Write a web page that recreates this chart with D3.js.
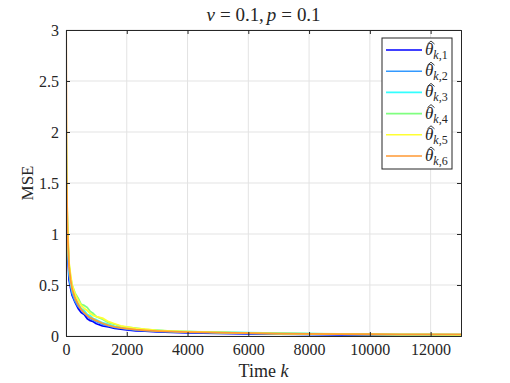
<!DOCTYPE html>
<html>
<head>
<meta charset="utf-8">
<script src="https://cdn.jsdelivr.net/npm/d3@7.9.0/dist/d3.min.js"></script>
<style>
  body { margin: 0; background: #fff; }
  svg text { font-family: "Liberation Serif", serif !important; fill: #262626; }
</style>
</head>
<body>
<div id="chart"></div>
<script>
const steps = [0, 20, 50, 100, 150, 200, 300, 400, 500, 600, 700, 800, 900, 1000, 1200, 1400, 1600, 1800, 2000, 2300, 2600, 3000, 3500, 4000, 5000, 6000, 7000, 8000, 9000, 10000, 11000, 12000, 13000];

// MSE per estimate
const theta1 = [1.9, 1.2, 0.85, 0.55, 0.47, 0.40, 0.33, 0.27, 0.23, 0.21, 0.17, 0.15, 0.14, 0.12, 0.10, 0.09, 0.075, 0.068, 0.06, 0.05, 0.047, 0.04, 0.036, 0.03, 0.025, 0.021, 0.018, 0.015, 0.012, 0.01, 0.009, 0.008, 0.007];
const theta2 = [1.75, 1.3, 0.9, 0.6, 0.5, 0.42, 0.34, 0.29, 0.26, 0.22, 0.2, 0.17, 0.155, 0.14, 0.115, 0.1, 0.085, 0.078, 0.068, 0.058, 0.052, 0.045, 0.04, 0.035, 0.03, 0.026, 0.02, 0.017, 0.015, 0.013, 0.012, 0.011, 0.01];
const theta3 = [2.2, 1.4, 1.0, 0.65, 0.52, 0.45, 0.37, 0.32, 0.27, 0.25, 0.21, 0.2, 0.17, 0.16, 0.13, 0.115, 0.095, 0.088, 0.078, 0.07, 0.06, 0.054, 0.046, 0.042, 0.037, 0.033, 0.027, 0.022, 0.019, 0.016, 0.014, 0.013, 0.012];
const theta4 = [2.0, 1.45, 1.05, 0.7, 0.58, 0.5, 0.42, 0.37, 0.31, 0.3, 0.28, 0.24, 0.22, 0.19, 0.165, 0.13, 0.115, 0.095, 0.088, 0.077, 0.065, 0.056, 0.048, 0.043, 0.035, 0.03, 0.025, 0.022, 0.02, 0.018, 0.016, 0.015, 0.015];
const theta5 = [2.4, 1.5, 1.1, 0.72, 0.6, 0.5, 0.41, 0.35, 0.3, 0.27, 0.25, 0.22, 0.2, 0.19, 0.175, 0.14, 0.12, 0.1, 0.09, 0.075, 0.066, 0.055, 0.048, 0.043, 0.035, 0.028, 0.024, 0.02, 0.018, 0.016, 0.014, 0.013, 0.012];
const theta6 = [3.5, 1.6, 1.0, 0.68, 0.55, 0.46, 0.37, 0.31, 0.26, 0.23, 0.2, 0.18, 0.165, 0.15, 0.125, 0.105, 0.09, 0.08, 0.072, 0.062, 0.055, 0.048, 0.042, 0.038, 0.033, 0.028, 0.024, 0.021, 0.019, 0.017, 0.016, 0.015, 0.015];

const seriesNames = ["1", "2", "3", "4", "5", "6"];
const colors = ["#0000ff", "#3399ff", "#33ffff", "#80ff80", "#ffff33", "#ff9933"];
const xTicks = [0, 2000, 4000, 6000, 8000, 10000, 12000];
const yTicks = [0, 0.5, 1, 1.5, 2, 2.5, 3];

const W = 510, H = 383;
const margin = { top: 30, right: 49, bottom: 47, left: 66 };
const iw = W - margin.left - margin.right;
const ih = H - margin.top - margin.bottom;
const SERIF = "'Liberation Serif', serif";

const svg = d3.select("#chart").append("svg")
    .attr("width", W).attr("height", H);

const g = svg.append("g").attr("transform", `translate(${margin.left},${margin.top})`);

const x = d3.scaleLinear().domain([0, 13000]).range([0, iw]);
const y = d3.scaleLinear().domain([0, 3]).range([ih, 0]);

// grid
g.selectAll("line.gx").data(xTicks).join("line")
    .attr("x1", d => x(d)).attr("x2", d => x(d))
    .attr("y1", 0).attr("y2", ih)
    .attr("stroke", "#e3e3e3").attr("stroke-width", 1);
g.selectAll("line.gy").data(yTicks).join("line")
    .attr("y1", d => y(d)).attr("y2", d => y(d))
    .attr("x1", 0).attr("x2", iw)
    .attr("stroke", "#e3e3e3").attr("stroke-width", 1);

// curves
g.append("clipPath").attr("id", "clip").append("rect")
    .attr("width", iw).attr("height", ih);

const allSeries = [theta1, theta2, theta3, theta4, theta5, theta6];
const line = d3.line().x((d, i) => x(steps[i])).y(d => y(d));

g.append("g").attr("clip-path", "url(#clip)")
    .selectAll("path").data(allSeries).join("path")
    .attr("d", line)
    .attr("fill", "none")
    .attr("stroke", (d, i) => colors[i])
    .attr("stroke-width", 1.8)
    .attr("stroke-linejoin", "round");

// axes (MATLAB box style, ticks inward)
const xAxis = d3.axisBottom(x).tickValues(xTicks).tickSize(-4).tickPadding(8).tickFormat(d3.format("d"));
const yAxis = d3.axisLeft(y).tickValues(yTicks).tickSize(-4).tickPadding(7).tickFormat(d => d);

g.append("g").attr("transform", `translate(0,${ih})`).call(xAxis);
g.append("g").call(yAxis);
g.append("g").call(d3.axisTop(x).tickValues(xTicks).tickSize(-4).tickFormat(""));
g.append("g").attr("transform", `translate(${iw},0)`).call(d3.axisRight(y).tickValues(yTicks).tickSize(-4).tickFormat(""));

g.selectAll(".domain").attr("stroke", "#262626");
g.selectAll(".tick line").attr("stroke", "#262626");
g.selectAll(".tick text").attr("font-family", SERIF).attr("font-size", 16).attr("fill", "#262626");

// title, spaced like LaTeX math
const title = svg.append("text").attr("x", margin.left + iw / 2).attr("y", 21)
    .attr("text-anchor", "middle").attr("font-family", SERIF).attr("font-size", 19)
    .attr("textLength", 114).attr("lengthAdjust", "spacing");
title.append("tspan").style("font-style", "italic").text("ν");
title.append("tspan").attr("dx", 5).text("=");
title.append("tspan").attr("dx", 5).text("0.1,");
title.append("tspan").attr("dx", 3).style("font-style", "italic").text("p");
title.append("tspan").attr("dx", 5).text("=");
title.append("tspan").attr("dx", 5).text("0.1");

// axis labels
const xl = svg.append("text").attr("x", margin.left + iw / 2).attr("y", 377)
    .attr("text-anchor", "middle").attr("font-family", SERIF).attr("font-size", 18);
xl.append("tspan").text("Time ");
xl.append("tspan").style("font-style", "italic").text("k");

svg.append("text").attr("transform", `translate(33,${margin.top + ih / 2}) rotate(-90)`)
    .attr("text-anchor", "middle").attr("font-family", SERIF).attr("font-size", 17).text("MSE");

// legend
const lg = svg.append("g").attr("transform", "translate(382,38)");
lg.append("rect").attr("width", 70).attr("height", 131)
    .attr("fill", "#fff").attr("stroke", "#262626").attr("stroke-width", 1);
const items = lg.selectAll("g.item").data(seriesNames).join("g")
    .attr("transform", (d, i) => `translate(0,${12 + i * 21.2})`);
items.append("line").attr("x1", 4).attr("x2", 40).attr("y1", 0).attr("y2", 0)
    .attr("stroke", (d, i) => colors[i]).attr("stroke-width", 1.6);
const lt = items.append("text").attr("x", 43).attr("y", 5)
    .attr("font-family", SERIF).attr("font-size", 17);
lt.append("tspan").style("font-style", "italic").text("θ");
lt.append("tspan").attr("dy", 4).attr("font-size", 12).style("font-style", "italic").text("k");
lt.append("tspan").attr("font-size", 12).text(d => "," + d);
// hat over theta
items.append("path").attr("d", "M45.5,-6 L49,-9 L52.5,-6")
    .attr("fill", "none").attr("stroke", "#262626").attr("stroke-width", 0.9);
</script>
</body>
</html>
